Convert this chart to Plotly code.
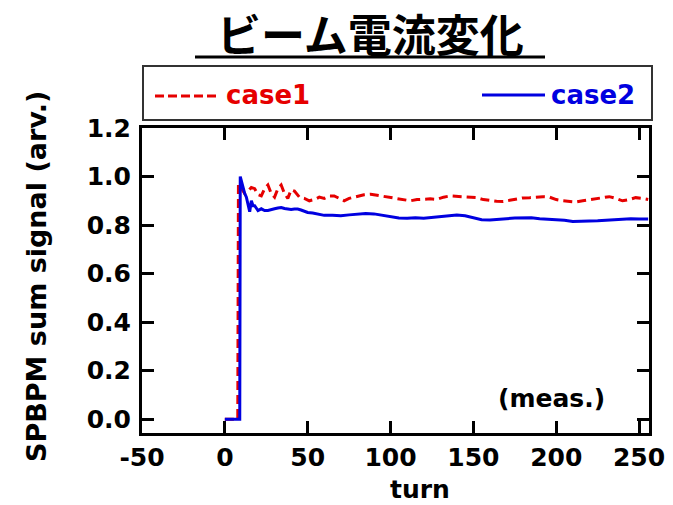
import plotly.graph_objects as go

# ---- data ----
case1_x = [0, 7.8, 8.2, 10, 12, 14, 16, 18, 20, 22, 24, 26, 28, 30, 32, 34, 36, 38, 40, 42,
           45, 48, 51, 54, 57, 60, 63, 66, 69, 72, 75, 78, 81, 84, 88, 92, 96, 100, 104, 108,
           112, 116, 120, 124, 128, 132, 136, 140, 144, 148, 152, 156, 160, 164, 168, 172, 176,
           180, 184, 188, 192, 196, 200, 204, 208, 212, 216, 220, 224, 228, 232, 236, 240, 244,
           248, 252, 255.5]
case1_y = [0, 0, 0.97, 0.95, 0.93, 0.94, 0.955, 0.95, 0.925, 0.92, 0.95, 0.965, 0.93, 0.915,
           0.95, 0.965, 0.93, 0.91, 0.945, 0.94, 0.915, 0.91, 0.90, 0.905, 0.915, 0.91, 0.92,
           0.92, 0.91, 0.90, 0.91, 0.915, 0.92, 0.925, 0.927, 0.922, 0.92, 0.915, 0.91, 0.905,
           0.90, 0.905, 0.908, 0.908, 0.906, 0.915, 0.92, 0.918, 0.917, 0.915, 0.913, 0.905,
           0.90, 0.898, 0.897, 0.903, 0.908, 0.912, 0.913, 0.915, 0.917, 0.915, 0.905, 0.90,
           0.897, 0.895, 0.90, 0.905, 0.908, 0.912, 0.917, 0.91, 0.90, 0.905, 0.913, 0.91, 0.905]

case2_x = [0, 9, 9.3, 10, 11, 12, 13, 14, 15, 16, 17, 18, 19, 20, 22, 24, 26, 28, 30, 32, 34,
           36, 38, 40, 42, 44, 46, 48, 50, 53, 56, 60, 65, 70, 75, 80, 85, 90, 95, 100, 105,
           110, 115, 120, 125, 130, 135, 140, 145, 150, 155, 160, 165, 170, 175, 180, 185, 190,
           195, 200, 205, 210, 215, 220, 225, 230, 235, 240, 245, 250, 255.5]
case2_y = [0, 0, 1.0, 0.98, 0.95, 0.93, 0.915, 0.89, 0.855, 0.9, 0.88, 0.88, 0.87, 0.86, 0.867,
           0.86, 0.86, 0.865, 0.867, 0.87, 0.872, 0.868, 0.866, 0.864, 0.866, 0.866, 0.862,
           0.858, 0.852, 0.85, 0.845, 0.84, 0.84, 0.838, 0.842, 0.845, 0.848, 0.846, 0.84,
           0.835, 0.829, 0.828, 0.83, 0.828, 0.832, 0.836, 0.84, 0.841, 0.838, 0.83, 0.822,
           0.821, 0.822, 0.826, 0.829, 0.829, 0.83, 0.826, 0.825, 0.823, 0.82, 0.815, 0.815,
           0.815, 0.818, 0.82, 0.823, 0.825, 0.826, 0.825, 0.825]

series_names = ["case1", "case2"]
x_ticks = [-50, 0, 50, 100, 150, 200, 250]
y_ticks = [0.0, 0.2, 0.4, 0.6, 0.8, 1.0, 1.2]

title_text = "ビーム電流変化"
x_title = "turn"
y_title = "SPBPM sum signal (arv.)"
note_text = "(meas.)"

# ---- style ----
RED = "#e60000"
BLUE = "#0000e0"
FONT = "DejaVu Sans"
W, H = 673, 505
L, R, T, B = 142, 24, 128, 72
PW, PH = W - L - R, H - T - B


def px(x):
    return (x - L) / PW


def py(y):
    return (H - B - y) / PH


fig = go.Figure()
fig.add_trace(go.Scatter(x=case1_x, y=case1_y, mode="lines", name=series_names[0],
                         line=dict(color=RED, width=3, dash="9px,5px")))
fig.add_trace(go.Scatter(x=case2_x, y=case2_y, mode="lines", name=series_names[1],
                         line=dict(color=BLUE, width=3)))

axis_common = dict(showline=True, linecolor="black", linewidth=3, mirror="ticks",
                   ticks="inside", ticklen=12, tickwidth=3, tickcolor="black",
                   showgrid=False, zeroline=False,
                   tickfont=dict(family=FONT, size=25, color="black", weight="bold"))

fig.update_xaxes(range=[-50, 256], tickvals=x_ticks, ticktext=[str(v) for v in x_ticks],
                 ticklabelstandoff=0, **axis_common)
fig.update_yaxes(range=[-0.057, 1.2], tickvals=y_ticks,
                 ticktext=["%.1f" % v for v in y_ticks], ticklabelstandoff=3, **axis_common)

shapes = [
    # title underline
    dict(type="line", xref="paper", yref="paper", x0=px(195), x1=px(545), y0=py(57), y1=py(57),
         line=dict(color="black", width=3)),
    # legend box
    dict(type="rect", xref="paper", yref="paper", x0=px(143), x1=px(652), y0=py(120), y1=py(66),
         line=dict(color="#333333", width=2), fillcolor="white"),
    # legend samples
    dict(type="line", xref="paper", yref="paper", x0=px(155), x1=px(219), y0=py(96), y1=py(96),
         line=dict(color=RED, width=3, dash="9px,4px")),
    dict(type="line", xref="paper", yref="paper", x0=px(482), x1=px(545), y0=py(95), y1=py(95),
         line=dict(color=BLUE, width=3)),
]

annotations = [
    dict(text="<b>" + title_text + "</b>", xref="paper", yref="paper", x=px(370), y=py(33),
         xanchor="center", yanchor="middle", showarrow=False,
         font=dict(family="Noto Sans CJK JP", size=44, color="black")),
    dict(text="<b>" + series_names[0] + "</b>", xref="paper", yref="paper", x=px(224), y=py(95),
         xanchor="left", yanchor="middle", showarrow=False,
         font=dict(family=FONT, size=26, color=RED)),
    dict(text="<b>" + series_names[1] + "</b>", xref="paper", yref="paper", x=px(549), y=py(95),
         xanchor="left", yanchor="middle", showarrow=False,
         font=dict(family=FONT, size=26, color=BLUE)),
    dict(text="<b>" + x_title + "</b>", xref="paper", yref="paper", x=px(420), y=py(489),
         xanchor="center", yanchor="middle", showarrow=False,
         font=dict(family=FONT, size=25, color="black")),
    dict(text="<b>" + y_title + "</b>", xref="paper", yref="paper", x=px(36), y=py(277),
         xanchor="center", yanchor="middle", showarrow=False, textangle=-90,
         font=dict(family=FONT, size=27, color="black")),
    dict(text="<b>" + note_text + "</b>", xref="paper", yref="paper", x=px(551), y=py(398),
         xanchor="center", yanchor="middle", showarrow=False,
         font=dict(family=FONT, size=25, color="black")),
]

fig.update_layout(width=W, height=H, margin=dict(l=L, r=R, t=T, b=B, autoexpand=False),
                  paper_bgcolor="white", plot_bgcolor="white", showlegend=False,
                  shapes=shapes, annotations=annotations)

fig.write_html("out.html")
